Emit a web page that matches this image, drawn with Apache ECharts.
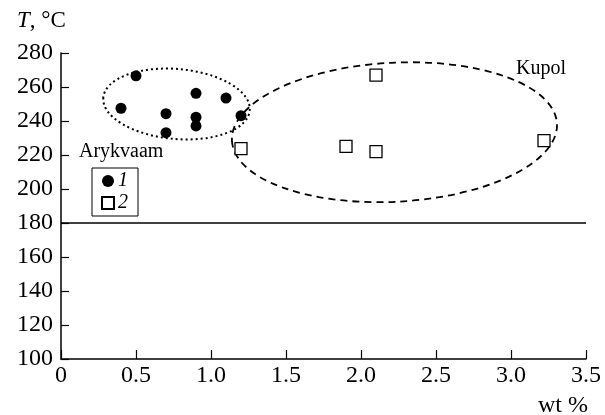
<!DOCTYPE html>
<html>
<head>
<meta charset="utf-8">
<script src="https://cdn.jsdelivr.net/npm/echarts@6/dist/echarts.min.js"></script>
<style>
  html, body { margin: 0; padding: 0; background: #fff; }
  #main { width: 605px; height: 415px; }
</style>
</head>
<body>
<div id="main"></div>
<script>
// group 1 - Arykvaam (wt %, T)
var arykvaam = [
  [0.5, 266.6], [0.4, 247.5], [0.7, 244.3], [0.7, 233.1], [0.9, 256.3],
  [0.9, 242.2], [0.9, 237.1], [1.1, 253.5], [1.2, 243.1]
];
// group 2 - Kupol
var kupol = [
  [1.2, 223.7], [1.9, 225.1], [2.1, 222.0], [2.1, 267.0], [3.22, 228.4]
];
// outlines: centre x, centre y, half width, half height (data units), tilt deg
var outlines = [
  [0.77, 250.0, 0.49, 20.6, 5, 'dot'],
  [2.223, 233.4, 1.085, 40.9, -3, 'dash']
];
var boundaryT = 180;

var serif = 'Liberation Serif';
var chart = echarts.init(document.getElementById('main'), null, { renderer: 'canvas' });

function drawOutline(params, api) {
  var c = api.coord([api.value(0), api.value(1)]);
  var s = api.size([api.value(2), api.value(3)]);
  var rx = s[0], ry = s[1];
  var phi = api.value(4);
  var a = phi * Math.PI / 180;
  var dx = rx * Math.cos(a), dy = rx * Math.sin(a);
  var x1 = c[0] - dx, y1 = c[1] - dy, x2 = c[0] + dx, y2 = c[1] + dy;
  var d = 'M' + x1 + ',' + y1 +
    ' A' + rx + ',' + ry + ' ' + phi + ' 1,0 ' + x2 + ',' + y2 +
    ' A' + rx + ',' + ry + ' ' + phi + ' 1,0 ' + x1 + ',' + y1 + ' Z';
  var dotted = outlines[params.dataIndex][5] === 'dot';
  return {
    type: 'path',
    shape: { pathData: d },
    style: {
      fill: null,
      stroke: '#000',
      lineWidth: dotted ? 2 : 1.8,
      lineDash: dotted ? [2, 3] : [7, 5]
    },
    silent: true
  };
}

var options = {
  animation: false,
  grid: { left: 61, right: 19, top: 53, bottom: 56 },
  legend: {
    orient: 'vertical',
    left: 92,
    top: 168,
    width: 40,
    padding: [3, 10, 3, 9],
    itemGap: 2,
    itemWidth: 12,
    itemHeight: 12,
    borderColor: '#000',
    borderWidth: 1,
    selectedMode: false,
    data: ['1', '2'],
    textStyle: {
      fontFamily: serif,
      fontStyle: 'italic',
      fontSize: 20,
      color: '#000',
      lineHeight: 20,
      padding: [0, 0, 0, -1]
    }
  },
  xAxis: {
    type: 'value',
    min: 0,
    max: 3.5,
    interval: 0.5,
    axisLine: { lineStyle: { color: '#000', width: 1.5 } },
    axisTick: { inside: true, length: 9, lineStyle: { color: '#000', width: 1.2 } },
    splitLine: { show: false },
    axisLabel: {
      margin: 5,
      fontFamily: serif,
      fontSize: 24,
      color: '#000',
      formatter: function (v) {
        return v === 0 ? '0' : v.toFixed(1);
      }
    }
  },
  yAxis: {
    type: 'value',
    min: 100,
    max: 280,
    interval: 20,
    axisLine: { lineStyle: { color: '#000', width: 1.5 } },
    axisTick: { inside: true, length: 8, lineStyle: { color: '#000', width: 1.2 } },
    splitLine: { show: false },
    axisLabel: {
      margin: 8,
      fontFamily: serif,
      fontSize: 24,
      color: '#000'
    }
  },
  graphic: [
    {
      type: 'text', left: 17, top: 9,
      style: {
        text: '{i|T}, °C',
        fontFamily: serif,
        fontSize: 23,
        fill: '#000',
        rich: { i: { fontStyle: 'italic', fontFamily: serif, fontSize: 23 } }
      }
    },
    {
      type: 'text', right: 17, top: 394,
      style: { text: 'wt %', fontFamily: serif, fontSize: 24, fill: '#000' }
    },
    {
      type: 'text', left: 79, top: 142,
      style: { text: 'Arykvaam', fontFamily: serif, fontSize: 20, fill: '#000' }
    },
    {
      type: 'text', left: 516, top: 59,
      style: { text: 'Kupol', fontFamily: serif, fontSize: 20, fill: '#000' }
    }
  ],
  series: [
    {
      name: 'outline',
      type: 'custom',
      renderItem: drawOutline,
      data: outlines.map(function (o) { return o.slice(0, 5); }),
      encode: { x: 0, y: 1 },
      silent: true,
      z: 1
    },
    {
      name: '1',
      type: 'scatter',
      symbol: 'circle',
      symbolSize: 11,
      itemStyle: { color: '#000', opacity: 1 },
      data: arykvaam,
      z: 3,
      markLine: {
        silent: true,
        symbol: ['none', 'none'],
        label: { show: false },
        lineStyle: { color: '#000', width: 1.5, type: 'solid', opacity: 1 },
        data: [{ yAxis: boundaryT }]
      }
    },
    {
      name: '2',
      type: 'scatter',
      symbol: 'rect',
      symbolSize: 12,
      itemStyle: { color: '#fff', borderColor: '#000', borderWidth: 1.3, opacity: 1 },
      data: kupol,
      z: 3
    }
  ]
};

chart.setOption(options);
</script>
</body>
</html>
